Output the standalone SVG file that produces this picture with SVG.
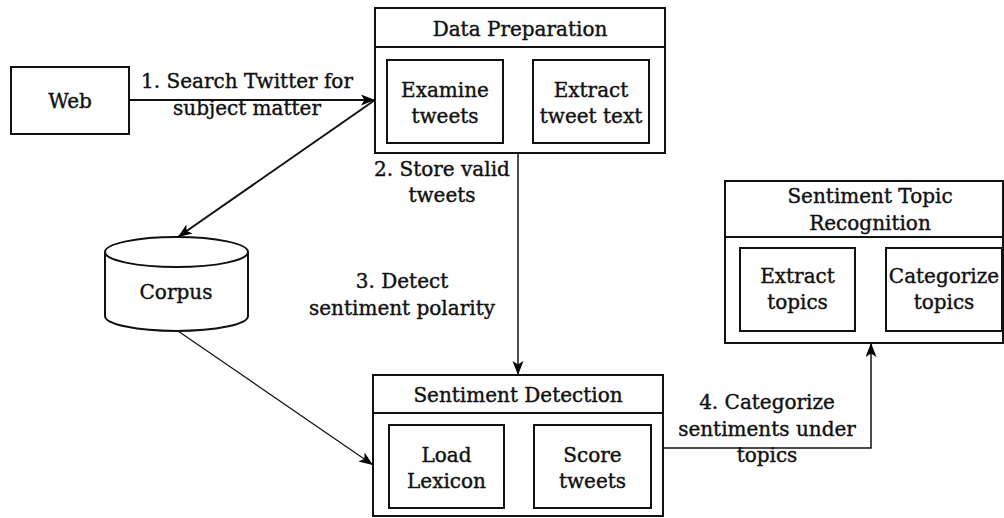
<svg xmlns="http://www.w3.org/2000/svg" width="1004" height="518" viewBox="0 0 1004 518">
<defs>
<marker id="ah" markerUnits="userSpaceOnUse" markerWidth="15" markerHeight="12" refX="14" refY="5.5" orient="auto">
<path d="M0,0 L14,5.5 L0,11 L3.5,5.5 z" fill="#000"/>
</marker>
</defs>
<style>
.box{fill:#fff;stroke:#111;stroke-width:2}
.t{font-family:"DejaVu Serif","Liberation Serif",serif;font-size:20px;fill:#111;stroke:#111;stroke-width:0.4;text-anchor:middle}
.c{fill:none;stroke:#111}
</style>
<rect width="1004" height="518" fill="#fff"/>
<g id="connectors">
<line class="c" x1="129" y1="100" x2="375" y2="100" stroke-width="2" marker-end="url(#ah)"/>
<line class="c" x1="375" y1="100" x2="178" y2="237" stroke-width="2" marker-end="url(#ah)"/>
<line class="c" x1="518" y1="153" x2="518" y2="375" stroke-width="1.5" marker-end="url(#ah)"/>
<line class="c" x1="178" y1="331" x2="373" y2="465" stroke-width="1.2" marker-end="url(#ah)"/>
<polyline class="c" points="663,448 871,448 871,343" stroke-width="1.5" marker-end="url(#ah)"/>
<line class="c" x1="503" y1="102" x2="533" y2="102" stroke-width="1.5" marker-end="url(#ah)"/>
<line class="c" x1="504" y1="467" x2="534" y2="467" stroke-width="1.5" marker-end="url(#ah)"/>
<line class="c" x1="855" y1="288" x2="886" y2="288" stroke-width="1.5" marker-end="url(#ah)"/>
<text class="t" x="247" y="88">1. Search Twitter for</text>
<text class="t" x="247" y="115">subject matter</text>
<text class="t" x="442" y="176">2. Store valid</text>
<text class="t" x="442" y="202">tweets</text>
<text class="t" x="402" y="288">3. Detect</text>
<text class="t" x="402" y="315">sentiment polarity</text>
<text class="t" x="767" y="409">4. Categorize</text>
<text class="t" x="767" y="436">sentiments under</text>
<text class="t" x="767" y="462">topics</text>
</g>
<g id="web">
<rect class="box" x="11" y="67" width="118" height="67"/>
<text class="t" x="70" y="108">Web</text>
</g>
<g id="corpus">
<path d="M105,252 L105,316 A71.5,15 0 0 0 248,316 L248,252" fill="#fff" stroke="#111" stroke-width="2"/>
<ellipse cx="176.5" cy="252" rx="71.5" ry="15" fill="#fff" stroke="#111" stroke-width="2"/>
<text class="t" x="176" y="299">Corpus</text>
</g>
<g id="data-preparation">
<rect class="box" x="375" y="8" width="290" height="145"/>
<line x1="375" y1="47" x2="665" y2="47" stroke="#111" stroke-width="2"/>
<text class="t" x="520" y="36">Data Preparation</text>
<rect class="box" x="387" y="60" width="116" height="83"/>
<text class="t" x="445" y="97">Examine</text>
<text class="t" x="445" y="123">tweets</text>
<rect class="box" x="533" y="60" width="116" height="83"/>
<text class="t" x="591" y="97">Extract</text>
<text class="t" x="591" y="123">tweet text</text>
</g>
<g id="sentiment-detection">
<rect class="box" x="373" y="375" width="290" height="141"/>
<line x1="373" y1="413" x2="663" y2="413" stroke="#111" stroke-width="2"/>
<text class="t" x="518" y="402">Sentiment Detection</text>
<rect class="box" x="389" y="425" width="115" height="83"/>
<text class="t" x="446.5" y="462">Load</text>
<text class="t" x="446.5" y="488">Lexicon</text>
<rect class="box" x="534" y="425" width="117" height="83"/>
<text class="t" x="592.5" y="462">Score</text>
<text class="t" x="592.5" y="488">tweets</text>
</g>
<g id="sentiment-topic-recognition">
<rect class="box" x="725" y="181" width="278" height="162"/>
<line x1="725" y1="237" x2="1003" y2="237" stroke="#111" stroke-width="2"/>
<text class="t" x="870" y="203">Sentiment Topic</text>
<text class="t" x="870" y="230">Recognition</text>
<rect class="box" x="740" y="248" width="115" height="83"/>
<text class="t" x="797.5" y="283">Extract</text>
<text class="t" x="797.5" y="309">topics</text>
<rect class="box" x="886" y="248" width="116" height="83"/>
<text class="t" x="944" y="283">Categorize</text>
<text class="t" x="944" y="309">topics</text>
</g>
</svg>
